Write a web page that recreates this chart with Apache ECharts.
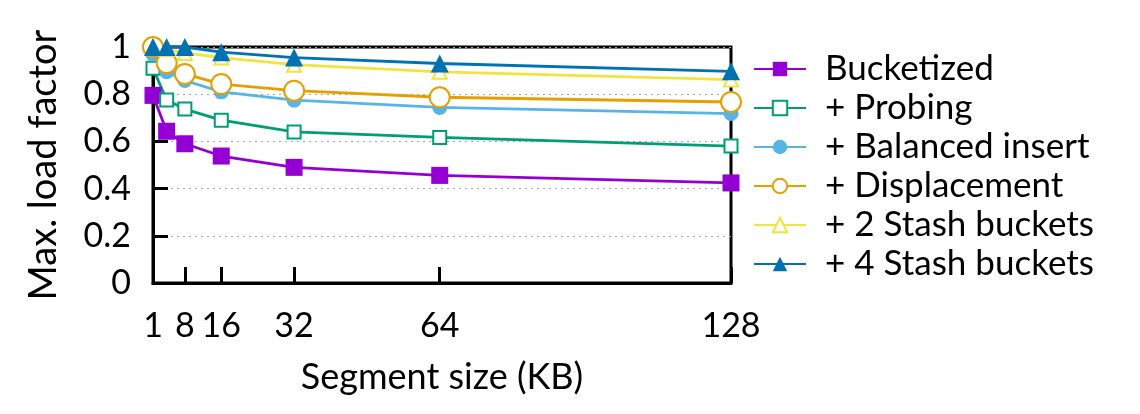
<!DOCTYPE html>
<html>
<head>
<meta charset="utf-8">
<script src="https://cdn.jsdelivr.net/npm/echarts@6/dist/echarts.min.js"></script>
<style>
  html, body { margin: 0; padding: 0; background: #fff; }
  #main { width: 1140px; height: 414px; }
</style>
</head>
<body>
<div id="main"></div>
<script>
// segment sizes (KB)
const segSizes = [1, 4, 8, 16, 32, 64, 128];
const xTicks = [1, 8, 16, 32, 64, 128];

const bucketized   = [0.795, 0.643, 0.590, 0.538, 0.490, 0.456, 0.424];
const probing      = [0.910, 0.775, 0.737, 0.690, 0.640, 0.617, 0.580];
const balanced     = [0.970, 0.895, 0.858, 0.810, 0.775, 0.744, 0.718];
const displacement = [1.000, 0.932, 0.886, 0.843, 0.815, 0.787, 0.767];
const stash2       = [1.000, 0.990, 0.975, 0.955, 0.925, 0.895, 0.862];
const stash4       = [1.000, 1.000, 1.000, 0.978, 0.955, 0.930, 0.897];

const font = 'Lato';

function pairs(vals) {
    return segSizes.map((x, i) => [x, vals[i]]);
}

function mkSeries(name, vals, color, symbol, size, empty) {
    return {
        name: name,
        type: 'line',
        data: pairs(vals),
        symbol: symbol,
        symbolSize: size,
        clip: false,
        lineStyle: { color: color, width: 2.8 },
        itemStyle: { color: color, borderColor: color, borderWidth: empty ? 2.8 : 0 },
        emphasis: { disabled: true }
    };
}

var myChart = echarts.init(document.getElementById('main'));
myChart.setOption({
    animation: false,
    grid: {
        left: 153, right: 409, top: 47, bottom: 131,
        show: true, borderColor: '#000', borderWidth: 3
    },
    legend: {
        orient: 'vertical',
        left: 748, top: 46,
        itemWidth: 52, itemHeight: 18,
        itemGap: 3,
        textStyle: { fontFamily: font, fontSize: 35, color: '#000', lineHeight: 36, padding: [0, 0, 0, 14] },
        data: ['Bucketized', '+ Probing', '+ Balanced insert', '+ Displacement', '+ 2 Stash buckets', '+ 4 Stash buckets']
    },
    xAxis: {
        type: 'value',
        min: 1, max: 128,
        name: 'Segment size (KB)',
        nameLocation: 'middle',
        nameGap: 76,
        nameTextStyle: { fontFamily: font, fontSize: 36, color: '#000' },
        axisLine: { show: true, lineStyle: { color: '#000', width: 3 } },
        axisTick: { show: true, inside: true, length: 16, customValues: xTicks, lineStyle: { color: '#000', width: 3 } },
        axisLabel: { customValues: xTicks, fontFamily: font, fontSize: 34, color: '#000', margin: 26 },
        splitLine: { show: false }
    },
    yAxis: {
        type: 'value',
        min: 0, max: 1, interval: 0.2,
        name: 'Max. load factor',
        nameLocation: 'middle',
        nameGap: 90,
        nameTextStyle: { fontFamily: font, fontSize: 38, color: '#000' },
        axisLine: { show: true, lineStyle: { color: '#000', width: 3 } },
        axisTick: { show: true, inside: true, length: 15, lineStyle: { color: '#000', width: 3 } },
        axisLabel: { fontFamily: font, fontSize: 34, color: '#000', margin: 22 },
        splitLine: { show: true, lineStyle: { color: '#aaa', width: 1, type: [2, 4] } }
    },
    series: [
        mkSeries('Bucketized', bucketized, '#9400d3', 'rect', 17, false),
        mkSeries('+ Probing', probing, '#009e73', 'emptyRect', 13, true),
        mkSeries('+ Balanced insert', balanced, '#56b4e9', 'circle', 15, false),
        mkSeries('+ Displacement', displacement, '#e69f00', 'emptyCircle', 20, true),
        mkSeries('+ 2 Stash buckets', stash2, '#f0e442', 'emptyTriangle', 14, true),
        mkSeries('+ 4 Stash buckets', stash4, '#0072b2', 'triangle', 18, false)
    ]
});
</script>
</body>
</html>
